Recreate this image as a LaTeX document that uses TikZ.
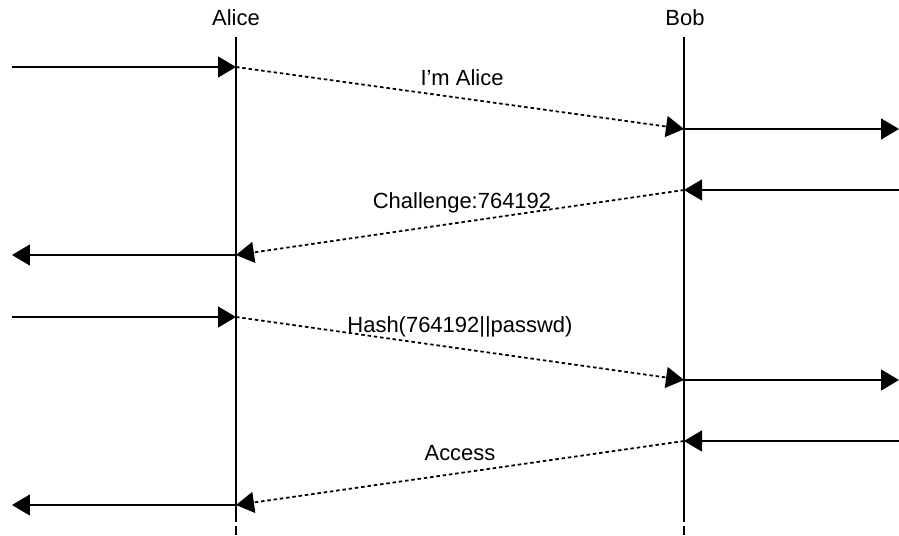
\documentclass[tikz,border=0pt]{standalone}
\usepackage{fontspec}
\setmainfont{Liberation Sans}
\usetikzlibrary{arrows.meta}

\begin{document}
\begin{tikzpicture}[x=0.02cm,y=-0.02cm]
                  \tikzset{msg/.style = {line width=0.8pt,-{Triangle[length=0.36cm,width=0.42cm]}}}
                  \tikzset{signal/.style = {msg,line width=1pt,dash pattern=on 2pt off 1.6pt}}
                  \tikzset{lifeline/.style = {line width=0.8pt}}
                  \tikzset{txt/.style = {font=\fontsize{12.5}{15}\selectfont,inner sep=0pt}}
                  \useasboundingbox (0,0) rectangle (899,535);
                  % actors
                  \node[txt] (Alice) at (236,18) {Alice};
                  \node[txt] (Bob) at (685,18) {Bob};
                  \draw[lifeline] (236,37) -- (236,522) (236,526) -- (236,535);
                  \draw[lifeline] (684,37) -- (684,522) (684,526) -- (684,535);
                  % ends of the messages
                  \coordinate (L1) at (12,67);   \coordinate (A1) at (236,67);
                  \coordinate (B1) at (684,129); \coordinate (R1) at (899,129);
                  \coordinate (R2) at (899,190); \coordinate (B2) at (684,190);
                  \coordinate (A2) at (236,255); \coordinate (L2) at (12,255);
                  \coordinate (L3) at (12,317);  \coordinate (A3) at (236,317);
                  \coordinate (B3) at (684,380); \coordinate (R3) at (899,380);
                  \coordinate (R4) at (899,441); \coordinate (B4) at (684,441);
                  \coordinate (A4) at (236,505); \coordinate (L4) at (12,505);
                  % messages
                  \draw[msg] (L1) -- (A1);
                  \draw[signal] (A1) -- (B1);
                  \draw[msg] (B1) -- (R1);
                  \draw[msg] (R2) -- (B2);
                  \draw[signal] (B2) -- (A2);
                  \draw[msg] (A2) -- (L2);
                  \draw[msg] (L3) -- (A3);
                  \draw[signal] (A3) -- (B3);
                  \draw[msg] (B3) -- (R3);
                  \draw[msg] (R4) -- (B4);
                  \draw[signal] (B4) -- (A4);
                  \draw[msg] (A4) -- (L4);
                  % labels
                  \node[txt] (hello) at (462,78) {I’m Alice};
                  \node[txt] (challenge) at (462,203) {Challenge:764192};
                  \node[txt] (hash) at (460,327) {Hash(764192||passwd)};
                  \node[txt] (access) at (460,453) {Access};
              \end{tikzpicture}
\end{document}
